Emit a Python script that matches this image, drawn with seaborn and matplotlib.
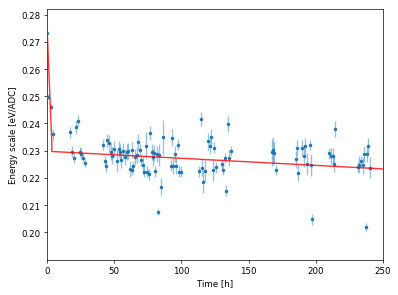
import numpy as np
import pandas as pd
import matplotlib
matplotlib.use("Agg")
import matplotlib.pyplot as plt
import seaborn as sns

# time [h]
time_h = [0.2, 0.7, 3.0, 4.2, 17.0, 18.9, 20.2, 21.6, 23.3, 24.7, 25.6, 26.9, 28.2,
          41.9, 43.1, 44.1, 44.9, 46.0, 47.4, 48.1, 49.6, 51.9, 53.3, 54.2, 55.3,
          56.8, 58.2, 59.4, 60.4, 61.9, 63.0, 63.5, 64.2, 65.5, 66.8, 68.0, 69.2,
          70.1, 71.2, 72.3, 73.4, 74.3, 75.8, 76.9, 77.9, 78.8, 79.6, 80.5, 81.5,
          82.5, 83.6, 84.7, 86.5, 92.3, 92.8, 93.9, 95.0, 96.2, 97.2, 98.3, 99.6,
          113.3, 114.3, 115.3, 116.3, 117.6, 120.0, 121.0, 122.3, 123.3, 124.3,
          125.7, 130.2, 131.2, 132.4, 133.2, 134.4, 135.6, 136.7,
          167.4, 167.9, 168.9, 170.4, 185.3, 185.8, 186.8, 189.7, 191.0, 192.2,
          193.6, 195.4, 196.5, 197.5, 210.0, 211.5, 212.8, 213.6, 214.6,
          231.4, 232.5, 233.6, 234.8, 236.0, 237.0, 238.1, 239.1, 240.3]
# energy scale [eV/ADC]
scale = [0.2733, 0.2499, 0.2460, 0.2361, 0.2368, 0.2296, 0.2273, 0.2386, 0.2410,
         0.2297, 0.2289, 0.2273, 0.2255,
         0.2322, 0.2262, 0.2242, 0.2338, 0.2327, 0.2297, 0.2282, 0.2307, 0.2262,
         0.2305, 0.2296, 0.2267, 0.2300, 0.2278, 0.2296, 0.2300, 0.2233, 0.2229,
         0.2303, 0.2242, 0.2276, 0.2285, 0.2331, 0.2304, 0.2265, 0.2246, 0.2223,
         0.2318, 0.2223, 0.2214, 0.2366, 0.2294, 0.2275, 0.2292, 0.2225, 0.2289,
         0.2074, 0.2284, 0.2168, 0.2349, 0.2245, 0.2348, 0.2243, 0.2288, 0.2243,
         0.2322, 0.2222, 0.2222,
         0.2225, 0.2416, 0.2238, 0.2184, 0.2225, 0.2334, 0.2317, 0.2350, 0.2228,
         0.2311, 0.2239, 0.2251, 0.2229, 0.2273, 0.2153, 0.2398, 0.2273, 0.2299,
         0.2294, 0.2302, 0.2292, 0.2229, 0.2268, 0.2309, 0.2218, 0.2309, 0.2280,
         0.2316, 0.2252, 0.2321, 0.2248, 0.2047, 0.2290, 0.2281, 0.2281, 0.2250,
         0.2380, 0.2240, 0.2249, 0.2261, 0.2246, 0.2287, 0.2018, 0.2287, 0.2317,
         0.2238]
scale_err = [0.0008, 0.0010, 0.0012, 0.0020, 0.0020, 0.0020, 0.0020, 0.0025, 0.0020,
             0.0015, 0.0020, 0.0015, 0.0015,
             0.0020, 0.0020, 0.0020, 0.0025, 0.0030, 0.0030, 0.0030, 0.0030, 0.0040,
             0.0030, 0.0030, 0.0030, 0.0030, 0.0030, 0.0030, 0.0030, 0.0030, 0.0020,
             0.0030, 0.0020, 0.0030, 0.0030, 0.0030, 0.0020, 0.0020, 0.0030, 0.0020,
             0.0050, 0.0020, 0.0020, 0.0025, 0.0030, 0.0030, 0.0030, 0.0020, 0.0030,
             0.0010, 0.0040, 0.0030, 0.0065, 0.0020, 0.0030, 0.0030, 0.0030, 0.0030,
             0.0020, 0.0020, 0.0020,
             0.0020, 0.0025, 0.0030, 0.0040, 0.0040, 0.0030, 0.0030, 0.0030, 0.0040,
             0.0020, 0.0020, 0.0020, 0.0020, 0.0020, 0.0020, 0.0030, 0.0030, 0.0020,
             0.0050, 0.0050, 0.0040, 0.0020, 0.0030, 0.0030, 0.0030, 0.0030, 0.0040,
             0.0030, 0.0040, 0.0020, 0.0040, 0.0020, 0.0020, 0.0030, 0.0030, 0.0030,
             0.0030, 0.0020, 0.0030, 0.0020, 0.0030, 0.0030, 0.0015, 0.0030, 0.0030,
             0.0040]

# fit curve
fit_t = [0.2, 3.5, 3.6, 250.0]
fit_y = [0.2735, 0.2340, 0.2297, 0.2233]

df = pd.DataFrame({"t": time_h, "s": scale, "e": scale_err})
fit = pd.DataFrame({"t": fit_t, "y": fit_y})

sns.set_style("ticks")
plt.rcParams["font.family"] = ["DejaVu Sans"]
plt.rcParams["axes.edgecolor"] = "black"
plt.rcParams["xtick.color"] = "black"
plt.rcParams["ytick.color"] = "black"
plt.rcParams["axes.labelcolor"] = "black"

fig = plt.figure(figsize=(6.4, 4.748), dpi=62.34)
ax = fig.add_axes([47/399, 1-261/296, (383-47)/399, (261-10)/296])

blue = "#1f77b4"
ax.vlines(df["t"], df["s"] - df["e"], df["s"] + df["e"], color=blue, alpha=0.45, lw=1.6)
sns.scatterplot(data=df, x="t", y="s", ax=ax, color=blue, s=16, linewidth=0, zorder=3)
sns.lineplot(data=fit, x="t", y="y", ax=ax, color="red", alpha=0.8, lw=1.6,
             sort=False, estimator=None, zorder=4)

ax.set_xlim(0, 250)
ax.set_ylim(0.1898, 0.2821)
ax.set_xticks([0, 50, 100, 150, 200, 250])
ax.set_yticks([0.20, 0.21, 0.22, 0.23, 0.24, 0.25, 0.26, 0.27, 0.28])
ax.set_yticklabels(["0.20", "0.21", "0.22", "0.23", "0.24", "0.25", "0.26", "0.27", "0.28"])
ax.set_xlabel("Time [h]", fontsize=10)
ax.set_ylabel("Energy scale [eV/ADC]", fontsize=10)
ax.tick_params(labelsize=10, length=3.5, width=0.8)
for sp in ax.spines.values():
    sp.set_visible(True)
    sp.set_linewidth(0.8)

fig.savefig("out.png", dpi=62.34)
